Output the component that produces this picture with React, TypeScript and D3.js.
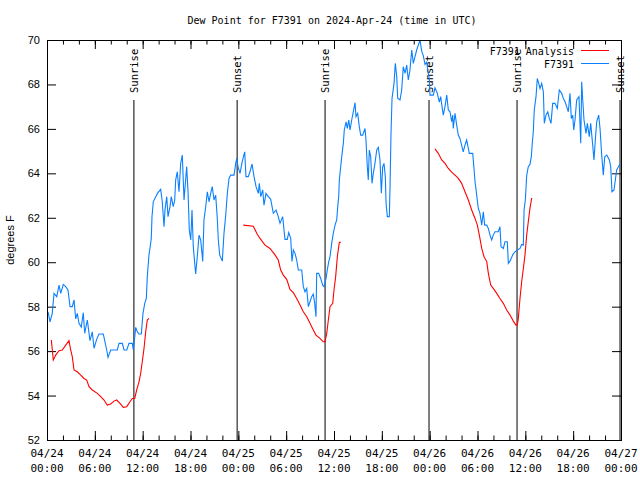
import React from "react";
import * as d3 from "d3";

// ---- data (hours since 2024-04-24 00:00 UTC) ----
const obsHours = [0.13,0.38,0.66,0.88,1.22,1.51,1.72,2.04,2.35,2.63,2.89,3.17,3.39,3.6,3.8,4.01,4.3,4.55,4.73,5.06,5.39,5.68,5.9,6.23,6.52,7.06,7.24,7.49,7.65,7.99,8.82,9.03,9.45,9.66,10.0,10.29,10.7,10.83,11.13,11.33,11.54,11.83,12.04,12.26,12.46,12.58,12.79,12.92,13.08,13.17,13.33,13.64,13.92,14.26,14.46,14.68,14.8,15.02,15.18,15.43,15.59,15.84,16.02,16.14,16.34,16.56,16.77,16.97,17.19,17.52,17.69,17.85,18.03,18.19,18.35,18.53,18.65,18.85,19.07,19.28,19.44,19.53,19.69,19.91,20.11,20.32,20.53,20.73,20.95,21.16,21.36,21.49,21.66,21.99,22.2,22.42,22.62,22.83,23.04,23.46,23.67,23.8,23.96,24.21,24.5,24.8,24.96,25.25,25.46,25.72,25.97,26.22,26.51,26.63,26.81,27.06,27.22,27.47,27.76,28.06,28.39,28.73,29.01,29.23,29.56,29.85,30.14,30.32,30.57,30.73,30.9,31.11,31.32,31.52,31.95,32.15,32.36,32.58,32.78,32.99,33.2,33.4,33.58,33.74,33.83,34.08,34.33,34.58,34.75,35.0,35.16,35.34,35.5,35.71,35.91,36.13,36.34,36.47,36.59,36.67,36.84,36.97,37.17,37.29,37.51,37.67,37.85,38.01,38.22,38.42,38.64,38.76,38.97,39.17,39.35,39.6,39.89,40.01,40.18,40.3,40.43,40.6,40.77,40.93,41.14,41.36,41.56,41.77,41.94,42.11,42.27,42.44,42.53,42.69,42.94,43.03,43.15,43.28,43.53,43.69,43.87,43.99,44.28,44.49,44.69,44.91,45.12,45.32,45.53,45.75,45.95,46.16,46.37,46.58,46.79,47.0,47.2,47.42,47.63,47.83,47.95,48.04,48.25,48.46,48.67,48.96,49.21,49.38,49.55,49.71,49.92,50.14,50.34,50.55,50.76,50.89,50.96,51.18,51.39,51.59,51.8,52.01,52.21,52.43,52.64,52.85,52.97,53.4,53.56,53.69,53.9,54.1,54.31,54.53,54.73,54.9,55.16,55.36,55.57,55.78,55.98,56.2,56.61,56.82,56.95,57.24,57.45,57.74,57.87,58.08,58.42,58.7,58.99,59.33,59.54,59.75,59.84,60.0,60.17,60.37,60.58,60.75,60.87,61.0,61.12,61.34,61.5,61.68,61.84,62.05,62.26,62.38,62.59,62.81,63.01,63.22,63.43,63.72,64.01,64.26,64.56,64.76,64.98,65.19,65.39,65.6,65.77,65.94,66.07,66.23,66.44,66.73,66.95,67.07,67.2,67.36,67.61,67.78,68.02,68.2,68.45,68.61,68.78,68.95,69.2,69.37,69.58,69.78,69.96,70.21,70.54,70.71,70.87,71.12,71.29,71.46,71.79,72.0];
const obsValues = [57.77,57.32,57.7,58.6,58.45,58.97,58.6,59.0,58.9,58.75,58.0,58.0,58.3,57.45,57.7,57.25,57.08,57.73,56.8,57.4,56.47,56.87,56.13,56.53,56.77,56.77,56.47,56.05,55.72,56.05,56.05,56.35,56.35,56.05,56.05,56.35,56.35,56.05,57.07,56.87,56.77,56.77,57.7,58.15,58.37,59.35,60.33,60.63,61.07,62.05,62.72,62.95,63.13,63.28,62.72,61.6,62.35,62.95,62.05,62.5,62.95,62.5,62.8,63.7,64.07,63.17,64.45,64.82,62.8,64.3,63.17,61.45,61.0,62.35,60.7,59.95,59.47,60.25,61.22,61.0,60.4,60.03,61.9,62.5,63.17,62.72,63.1,63.4,62.8,63.02,61.97,61.0,60.33,60.05,61.3,62.12,63.1,63.77,63.92,63.92,64.45,64.67,64.3,64.0,64.55,64.97,63.85,63.85,64.07,64.42,63.85,63.4,63.1,63.55,62.95,63.25,62.57,63.1,62.95,62.83,62.2,62.35,62.05,61.75,62.05,61.03,61.03,61.33,61.07,60.03,60.55,60.4,60.1,59.65,59.65,58.9,58.67,58.82,58.0,58.22,58.45,58.57,58.15,57.55,59.5,59.5,59.27,58.97,58.9,59.27,59.65,60.03,60.25,60.85,61.3,61.67,61.9,62.5,62.95,63.7,64.3,64.75,65.35,65.95,66.32,66.02,66.4,65.95,66.4,66.77,67.18,66.55,66.7,66.1,65.72,65.72,66.02,65.5,64.3,63.7,65.05,64.75,63.55,64.0,64.45,65.05,65.17,64.6,63.1,64.3,64.45,63.85,62.65,62.05,62.05,63.4,65.8,67.38,68.05,68.95,68.35,67.38,67.3,67.75,68.8,68.5,68.87,68.2,68.65,69.55,68.95,69.25,69.55,69.77,70.0,69.5,69.3,68.9,69.0,68.5,68.27,67.52,67.52,67.52,67.85,67.6,67.2,67.45,67.0,66.62,67.0,67.52,66.85,66.77,66.32,66.62,66.02,66.7,66.17,65.72,65.57,65.27,64.97,65.27,65.5,65.12,64.9,64.9,64.22,63.62,63.02,62.42,62.2,61.67,62.27,61.67,61.67,61.52,61.22,61.0,61.22,61.37,61.37,61.6,60.7,60.62,60.92,60.92,59.95,60.05,60.33,60.47,60.55,60.62,60.8,60.77,62.35,62.8,63.9,64.3,64.4,64.75,65.35,65.87,66.85,67.45,68.27,68.05,67.82,68.05,67.67,66.25,66.62,66.77,66.47,66.25,67.15,67.15,66.92,67.75,67.6,67.38,67.22,67.0,66.77,67.6,66.47,66.62,65.95,66.4,67.3,67.45,65.35,68.12,67.3,66.4,65.8,66.25,65.65,66.25,65.27,64.6,65.5,66.32,66.62,66.02,64.82,63.92,64.75,64.82,64.6,64.3,63.17,63.25,63.7,64.15,64.37,64.4];

const anaHours = [0.54,0.79,1.09,1.51,1.92,2.35,2.76,2.97,3.17,3.39,3.8,4.23,4.64,4.98,5.27,5.68,6.31,6.74,7.15,7.56,7.99,8.4,8.74,9.16,9.57,10.0,10.41,10.7,11.0,11.25,11.54,11.75,11.95,12.17,12.38,12.58,12.79,
  18.0,
  24.62,25.88,26.31,26.72,27.35,27.97,28.6,29.01,29.31,29.64,30.07,30.48,30.9,31.32,31.74,32.15,32.58,32.99,33.4,33.74,34.24,34.66,34.87,35.09,35.29,35.5,35.84,36.0,36.21,36.42,36.67,36.88,
  42.0,
  48.67,49.08,49.51,49.92,50.34,50.76,51.18,51.59,52.01,52.43,52.85,53.27,53.69,53.98,54.23,54.53,54.82,55.16,55.36,55.66,55.98,56.41,56.82,57.24,57.66,58.08,58.49,58.83,58.99,59.12,59.33,59.54,59.75,59.96,60.17,60.37,60.58,60.79,60.87];
const anaValues = [56.5,55.6,55.82,56.02,56.05,56.27,56.47,56.05,55.75,55.15,55.07,54.92,54.77,54.7,54.4,54.25,54.1,53.95,53.8,53.57,53.62,53.75,53.8,53.65,53.47,53.5,53.72,53.87,53.87,54.25,54.62,55.0,55.52,56.12,56.87,57.4,57.47,
  null,
  61.67,61.62,61.3,61.07,60.77,60.62,60.33,60.1,59.65,59.42,59.23,58.78,58.63,58.37,58.07,57.77,57.55,57.25,56.95,56.72,56.57,56.42,56.42,56.8,57.4,58.0,58.15,58.75,59.35,60.25,60.9,60.9,
  null,
  65.1,64.9,64.6,64.45,64.22,64.05,63.92,63.77,63.55,63.17,62.8,62.35,61.97,61.67,61.22,60.62,60.25,60.03,59.5,58.97,58.82,58.6,58.37,58.15,57.85,57.62,57.35,57.17,57.17,57.47,58.37,59.12,59.72,60.33,61.22,61.82,62.42,62.87,62.87];

const sunHours = [10.9, 23.85, 34.88, 47.92, 58.96, 71.88];
const sunLabels = ["Sunrise", "Sunset", "Sunrise", "Sunset", "Sunrise", "Sunset"];
const yTicks = [52, 54, 56, 58, 60, 62, 64, 66, 68, 70];
const seriesNames = ["F7391 Analysis", "F7391"];
const seriesColors = ["#ff0000", "#0a80ff"];

const base = Date.UTC(2024, 3, 24, 0, 0);
const toDate = (h: number) => new Date(base + h * 3600 * 1000);

export default function App() {
  const W = 640, H = 480;
  const L = 47, R = 621, T = 40, B = 440;
  const x = d3.scaleUtc().domain([toDate(0), toDate(72)]).range([L, R]);
  const y = d3.scaleLinear().domain([52, 70]).range([B, T]);

  const obs = obsHours.map((h, i) => ({ t: toDate(h), v: obsValues[i] as number | null }));
  const ana = anaHours.map((h, i) => ({ t: toDate(h), v: anaValues[i] as number | null }));
  const line = d3
    .line<{ t: Date; v: number | null }>()
    .defined((d) => d.v !== null)
    .x((d) => x(d.t))
    .y((d) => y(d.v as number));

  const majorX = x.ticks(d3.utcHour.every(6) as any);
  const minorX = x.ticks(d3.utcHour.every(2) as any);
  const fmtDate = d3.utcFormat("%m/%d");
  const fmtTime = d3.utcFormat("%H:%M");

  const mono = "'DejaVu Sans Mono', monospace";
  const sans = "'Liberation Sans', Arial, sans-serif";
  const tickLen = 9;

  return (
    <svg width={W} height={H} style={{ position: "absolute", left: 0, top: 0 }}>
      <rect x={0} y={0} width={W} height={H} fill="#fff" />
      <defs>
        <clipPath id="plotclip">
          <rect x={L} y={T - 1} width={R - L} height={B - T + 2} />
        </clipPath>
      </defs>
      <text x={332} y={24} textAnchor="middle" fontFamily={mono} fontSize={10}>
        Dew Point for F7391 on 2024-Apr-24 (time in UTC)
      </text>

      {yTicks.map((v) => (
        <g key={"y" + v}>
          <line x1={L} x2={L + tickLen} y1={y(v) + 0.5} y2={y(v) + 0.5} stroke="#000" />
          <line x1={R} x2={R - tickLen} y1={y(v) + 0.5} y2={y(v) + 0.5} stroke="#000" />
          <text x={40} y={y(v) + 4} textAnchor="end" fontFamily={sans} fontSize={11}>
            {v}
          </text>
        </g>
      ))}
      {minorX.map((d, i) => (
        <g key={"mx" + i}>
          <line x1={x(d) + 0.5} x2={x(d) + 0.5} y1={B} y2={B - tickLen / 2} stroke="#000" />
          <line x1={x(d) + 0.5} x2={x(d) + 0.5} y1={T} y2={T + tickLen / 2} stroke="#000" />
        </g>
      ))}
      {majorX.map((d, i) => (
        <g key={"x" + i}>
          <line x1={x(d) + 0.5} x2={x(d) + 0.5} y1={B} y2={B - tickLen} stroke="#000" />
          <line x1={x(d) + 0.5} x2={x(d) + 0.5} y1={T} y2={T + tickLen} stroke="#000" />
          <text x={x(d)} y={457} textAnchor="middle" fontFamily={mono} fontSize={11}>
            {fmtDate(d)}
          </text>
          <text x={x(d)} y={472} textAnchor="middle" fontFamily={mono} fontSize={11}>
            {fmtTime(d)}
          </text>
        </g>
      ))}

      <text
        transform={`translate(14,${(T + B) / 2}) rotate(-90)`}
        textAnchor="middle"
        fontFamily={sans}
        fontSize={11}
      >
        degrees F
      </text>

      {sunHours.map((h, i) => (
        <g key={"s" + i}>
          <line x1={x(toDate(h))} x2={x(toDate(h))} y1={100} y2={B} stroke="#000" strokeWidth={1} />
          <text
            transform={`translate(${x(toDate(h)) + 4},93) rotate(-90)`}
            textAnchor="start"
            fontFamily={mono}
            fontSize={10.5}
          >
            {sunLabels[i]}
          </text>
        </g>
      ))}

      <g clipPath="url(#plotclip)">
        <path d={line(ana) || ""} fill="none" stroke={seriesColors[0]} strokeWidth={1.1} />
        <path d={line(obs) || ""} fill="none" stroke={seriesColors[1]} strokeWidth={1.1} />
      </g>

      {seriesNames.map((n, i) => (
        <g key={"l" + i}>
          <text x={574} y={55 + i * 13} textAnchor="end" fontFamily={mono} fontSize={10}>
            {n}
          </text>
          <line x1={581} x2={609} y1={50.5 + i * 13} y2={50.5 + i * 13} stroke={seriesColors[i]} strokeWidth={1} />
        </g>
      ))}

      <rect x={L + 0.5} y={T + 0.5} width={R - L} height={B - T} fill="none" stroke="#000" strokeWidth={1} />
    </svg>
  );
}
